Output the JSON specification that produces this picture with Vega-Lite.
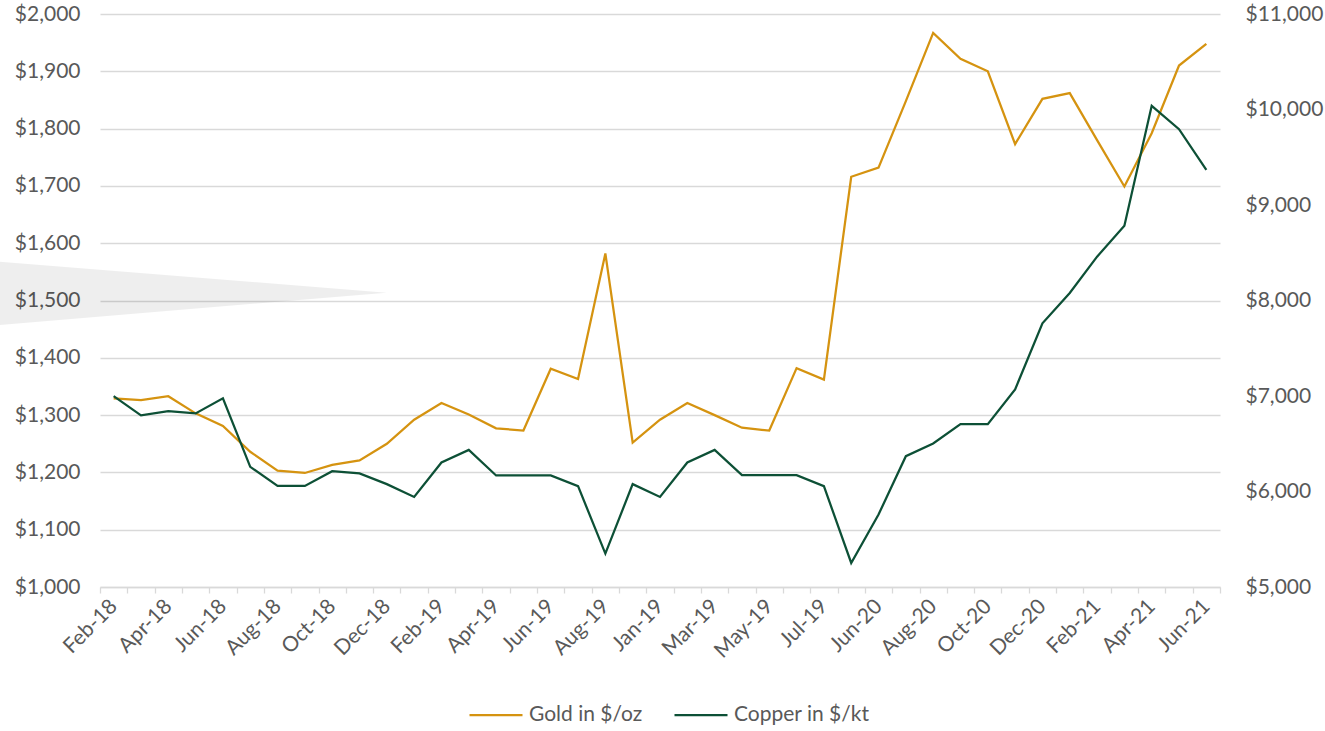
{
  "$schema": "https://vega.github.io/schema/vega-lite/v6.json",
  "width": 1120,
  "height": 573,
  "autosize": "none",
  "padding": {"left": 100, "top": 14, "right": 105, "bottom": 144},
  "background": "white",
  "config": {
    "view": {"stroke": null},
    "font": "Lato",
    "axis": {"labelFont": "Lato", "labelFontSize": 21, "labelColor": "#595959", "title": null}
  },
  "datasets": {
    "prices": [
      {"i": 0, "month": "Feb-18", "gold": 1329, "copper": 6999},
      {"i": 1, "month": "Mar-18", "gold": 1326, "copper": 6797},
      {"i": 2, "month": "Apr-18", "gold": 1333, "copper": 6842},
      {"i": 3, "month": "May-18", "gold": 1303, "copper": 6818},
      {"i": 4, "month": "Jun-18", "gold": 1281, "copper": 6975},
      {"i": 5, "month": "Jul-18", "gold": 1236, "copper": 6258},
      {"i": 6, "month": "Aug-18", "gold": 1203, "copper": 6059},
      {"i": 7, "month": "Sep-18", "gold": 1199, "copper": 6059},
      {"i": 8, "month": "Oct-18", "gold": 1213, "copper": 6213},
      {"i": 9, "month": "Nov-18", "gold": 1221, "copper": 6189},
      {"i": 10, "month": "Dec-18", "gold": 1250, "copper": 6077},
      {"i": 11, "month": "Jan-19", "gold": 1292, "copper": 5943},
      {"i": 12, "month": "Feb-19", "gold": 1321, "copper": 6304},
      {"i": 13, "month": "Mar-19", "gold": 1301, "copper": 6436},
      {"i": 14, "month": "Apr-19", "gold": 1277, "copper": 6168},
      {"i": 15, "month": "May-19", "gold": 1273, "copper": 6168},
      {"i": 16, "month": "Jun-19", "gold": 1381, "copper": 6168},
      {"i": 17, "month": "Jul-19", "gold": 1363, "copper": 6056},
      {"i": 18, "month": "Aug-19", "gold": 1582, "copper": 5350},
      {"i": 19, "month": "Dec-18", "gold": 1252, "copper": 6077},
      {"i": 20, "month": "Jan-19", "gold": 1292, "copper": 5943},
      {"i": 21, "month": "Feb-19", "gold": 1321, "copper": 6304},
      {"i": 22, "month": "Mar-19", "gold": 1300, "copper": 6436},
      {"i": 23, "month": "Apr-19", "gold": 1278, "copper": 6171},
      {"i": 24, "month": "May-19", "gold": 1273, "copper": 6171},
      {"i": 25, "month": "Jun-19", "gold": 1382, "copper": 6171},
      {"i": 26, "month": "Jul-19", "gold": 1362, "copper": 6056},
      {"i": 27, "month": "May-20", "gold": 1716, "copper": 5252},
      {"i": 28, "month": "Jun-20", "gold": 1732, "copper": 5759},
      {"i": 29, "month": "Jul-20", "gold": 1848, "copper": 6370},
      {"i": 30, "month": "Aug-20", "gold": 1967, "copper": 6503},
      {"i": 31, "month": "Sep-20", "gold": 1922, "copper": 6705},
      {"i": 32, "month": "Oct-20", "gold": 1900, "copper": 6705},
      {"i": 33, "month": "Nov-20", "gold": 1773, "copper": 7069},
      {"i": 34, "month": "Dec-20", "gold": 1852, "copper": 7761},
      {"i": 35, "month": "Jan-21", "gold": 1862, "copper": 8079},
      {"i": 36, "month": "Feb-21", "gold": 1780, "copper": 8459},
      {"i": 37, "month": "Mar-21", "gold": 1699, "copper": 8784},
      {"i": 38, "month": "Apr-21", "gold": 1792, "copper": 10039},
      {"i": 39, "month": "May-21", "gold": 1910, "copper": 9794},
      {"i": 40, "month": "Jun-21", "gold": 1948, "copper": 9368}
    ],
    "wedge": [
      {"wx": -4.18, "wtop": 1567.8, "wbottom": 1457.2},
      {"wx": 10.0, "wtop": 1513.6, "wbottom": 1513.6}
    ]
  },
  "layer": [
    {
      "data": {"name": "wedge"},
      "mark": {"type": "area", "clip": false, "fill": "#000000", "fillOpacity": 0.065},
      "encoding": {
        "x": {"field": "wx", "type": "quantitative", "scale": {"domain": [-0.5, 40.5], "nice": false, "zero": false}, "axis": null},
        "y": {"field": "wtop", "type": "quantitative", "scale": {"domain": [1000, 2000], "nice": false, "zero": false}, "axis": null},
        "y2": {"field": "wbottom"}
      }
    },
    {
      "data": {"name": "prices"},
      "mark": {"type": "line", "strokeWidth": 2.25},
      "encoding": {
        "x": {
          "field": "i", "type": "quantitative",
          "scale": {"domain": [-0.5, 40.5], "nice": false, "zero": false},
          "axis": {
            "orient": "bottom",
            "values": [-0.5, 0.5, 1.5, 2.5, 3.5, 4.5, 5.5, 6.5, 7.5, 8.5, 9.5, 10.5, 11.5, 12.5, 13.5, 14.5, 15.5, 16.5, 17.5, 18.5, 19.5, 20.5, 21.5, 22.5, 23.5, 24.5, 25.5, 26.5, 27.5, 28.5, 29.5, 30.5, 31.5, 32.5, 33.5, 34.5, 35.5, 36.5, 37.5, 38.5, 39.5, 40.5],
            "labels": false, "grid": false, "ticks": true, "tickSize": 6, "tickColor": "#D9D9D9", "tickWidth": 1.3,
            "domain": true, "domainColor": "#D9D9D9", "domainWidth": 1.3
          }
        },
        "y": {
          "field": "gold", "type": "quantitative",
          "scale": {"domain": [1000, 2000], "nice": false, "zero": false},
          "axis": {
            "orient": "left",
            "values": [1000, 1100, 1200, 1300, 1400, 1500, 1600, 1700, 1800, 1900, 2000],
            "format": "$,.0f", "grid": true, "gridColor": "#D9D9D9", "gridWidth": 1.3,
            "domain": false, "ticks": false, "labelPadding": 20
          }
        },
        "color": {
          "datum": "Gold in $/oz", "type": "nominal",
          "scale": {"domain": ["Gold in $/oz", "Copper in $/kt"], "range": ["#D59310", "#0D5036"]},
          "legend": {
            "orient": "none", "legendX": 368, "legendY": 673, "direction": "horizontal",
            "title": null, "symbolType": "stroke", "symbolSize": 2809, "symbolStrokeWidth": 2.25,
            "labelFont": "Lato", "labelFontSize": 21, "labelColor": "#595959",
            "labelOffset": 5, "columnPadding": 27, "padding": 0
          }
        }
      }
    },
    {
      "data": {"name": "prices"},
      "mark": {"type": "line", "strokeWidth": 2.25},
      "encoding": {
        "x": {
          "field": "i", "type": "quantitative",
          "scale": {"domain": [-0.5, 40.5], "nice": false, "zero": false},
          "axis": {
            "orient": "bottom",
            "values": [0, 2, 4, 6, 8, 10, 12, 14, 16, 18, 20, 22, 24, 26, 28, 30, 32, 34, 36, 38, 40],
            "labelExpr": "['Feb-18','Mar-18','Apr-18','May-18','Jun-18','Jul-18','Aug-18','Sep-18','Oct-18','Nov-18','Dec-18','Jan-19','Feb-19','Mar-19','Apr-19','May-19','Jun-19','Jul-19','Aug-19','Dec-18','Jan-19','Feb-19','Mar-19','Apr-19','May-19','Jun-19','Jul-19','May-20','Jun-20','Jul-20','Aug-20','Sep-20','Oct-20','Nov-20','Dec-20','Jan-21','Feb-21','Mar-21','Apr-21','May-21','Jun-21'][datum.value]",
            "labelAngle": -45, "labelAlign": "right", "labelBaseline": "middle", "labelOverlap": false, "labelBound": false, "labelFlush": false,
            "labelPadding": 16, "grid": false, "ticks": false, "domain": false
          }
        },
        "y": {
          "field": "copper", "type": "quantitative",
          "scale": {"domain": [5000, 11000], "nice": false, "zero": false},
          "axis": {
            "orient": "right",
            "values": [5000, 6000, 7000, 8000, 9000, 10000, 11000],
            "format": "$,.0f", "grid": false, "domain": false, "ticks": false, "labelPadding": 25
          }
        },
        "color": {"datum": "Copper in $/kt", "type": "nominal"}
      }
    }
  ],
  "resolve": {"scale": {"y": "independent"}, "axis": {"x": "independent", "y": "independent"}}
}
